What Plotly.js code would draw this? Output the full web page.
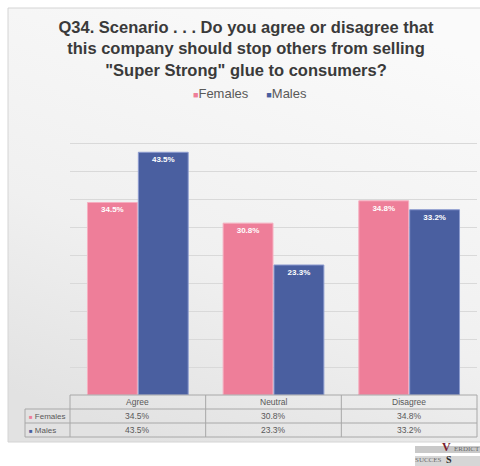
<!DOCTYPE html>
<html>
<head>
<meta charset="utf-8">
<script src="https://cdn.plot.ly/plotly-3.0.1.min.js"></script>
<style>html,body{margin:0;padding:0;background:#fff;}#chart{width:480px;height:466px;}</style>
</head>
<body>
<div id="chart"></div>
<script>
const categories = ['Agree', 'Neutral', 'Disagree'];
const females = [34.5, 30.8, 34.8];
const males = [43.5, 23.3, 33.2];
const seriesNames = ['Females', 'Males'];
const titleText = 'Q34. Scenario . . . Do you agree or disagree that<br>this company should stop others from selling<br>"Super Strong" glue to consumers?';

const PINK = '#EE7E99';
const BLUE = '#4A5FA0';
const W = 480, H = 466;
const L = 70, R = 3, T = 116, B = 71;
const PW = W - L - R, PH = H - T - B;
const px = v => (v - L) / PW;
const py = v => (H - B - v) / PH;

const fmt = v => v.toFixed(1) + '%';

const traces = [
  {type: 'bar', name: seriesNames[0], x: categories, y: females,
   marker: {color: PINK, line: {color: '#F6AFC0', width: 1}},
   texttemplate: '%{y:.1f}%', textposition: 'inside', insidetextanchor: 'end',
   textangle: 0, constraintext: 'none',
   textfont: {family: 'Liberation Sans, Arial, sans-serif', size: 8, color: '#ffffff', weight: 'bold'}},
  {type: 'bar', name: seriesNames[1], x: categories, y: males,
   marker: {color: BLUE, line: {color: '#8C9BCF', width: 1}},
   texttemplate: '%{y:.1f}%', textposition: 'inside', insidetextanchor: 'end',
   textangle: 0, constraintext: 'none',
   textfont: {family: 'Liberation Sans, Arial, sans-serif', size: 8, color: '#ffffff', weight: 'bold'}}
];

const grad = '<svg xmlns="http://www.w3.org/2000/svg" width="100" height="100" preserveAspectRatio="none">' +
  '<defs><linearGradient id="g" x1="0.7" y1="0" x2="0.3" y2="1">' +
  '<stop offset="0" stop-color="#FAFAFA"/><stop offset="0.6" stop-color="#F0F0F0"/><stop offset="1" stop-color="#E2E2E2"/>' +
  '</linearGradient></defs><rect width="100" height="100" fill="url(#g)"/></svg>';

const lineCol = '#A8A8A8';
const shapes = [];
function hline(y, x0, x1) {
  shapes.push({type: 'line', xref: 'paper', yref: 'paper', x0: px(x0), x1: px(x1), y0: py(y), y1: py(y), line: {color: lineCol, width: 1}});
}
function vline(x, y0, y1) {
  shapes.push({type: 'line', xref: 'paper', yref: 'paper', x0: x, x1: x, y0: py(y0), y1: py(y1), line: {color: lineCol, width: 1}});
}
// panel border
shapes.push({type: 'rect', xref: 'paper', yref: 'paper', x0: px(8), x1: px(481), y0: py(442), y1: py(8),
  line: {color: '#D4D4D4', width: 1}, fillcolor: 'rgba(0,0,0,0)', layer: 'below'});
// table grid
hline(395, 70, 477);
hline(409, 25, 477);
hline(423, 25, 477);
hline(437, 25, 477);
vline(px(25), 409, 437);
for (let i = 0; i <= categories.length; i++) vline(i / categories.length, 395, 437);

// logo shapes
shapes.push({type: 'rect', xref: 'paper', yref: 'paper', x0: px(415), x1: px(480), y0: py(453), y1: py(446), fillcolor: '#C9C9C9', line: {width: 0}});
shapes.push({type: 'rect', xref: 'paper', yref: 'paper', x0: px(415), x1: px(480), y0: py(466), y1: py(456), fillcolor: '#D6D6D6', line: {width: 0}});

const annotations = [];
const tFont = {family: 'Liberation Sans, Arial, sans-serif', size: 8.5, color: '#595959'};
const lFont = {family: 'Liberation Sans, Arial, sans-serif', size: 8, color: '#595959'};
const rowY = [402, 416, 430];
categories.forEach((c, i) => {
  annotations.push({xref: 'x', yref: 'paper', x: c, y: py(rowY[0]), text: c, showarrow: false, font: tFont, xanchor: 'center', yanchor: 'middle'});
  annotations.push({xref: 'x', yref: 'paper', x: c, y: py(rowY[1]), text: fmt(females[i]), showarrow: false, font: tFont, xanchor: 'center', yanchor: 'middle'});
  annotations.push({xref: 'x', yref: 'paper', x: c, y: py(rowY[2]), text: fmt(males[i]), showarrow: false, font: tFont, xanchor: 'center', yanchor: 'middle'});
});
annotations.push({xref: 'paper', yref: 'paper', x: px(27), y: py(rowY[1]), xanchor: 'left', yanchor: 'middle', showarrow: false, font: lFont,
  text: '<span style="color:' + PINK + ';font-size:6px">■</span> ' + seriesNames[0]});
annotations.push({xref: 'paper', yref: 'paper', x: px(27), y: py(rowY[2]), xanchor: 'left', yanchor: 'middle', showarrow: false, font: lFont,
  text: '<span style="color:' + BLUE + ';font-size:6px">■</span> ' + seriesNames[1]});

// legend (top)
annotations.push({xref: 'paper', yref: 'paper', x: px(250), y: py(94), xanchor: 'center', yanchor: 'middle', showarrow: false,
  font: {family: 'Liberation Sans, Arial, sans-serif', size: 13, color: '#595959'},
  text: '<span style="color:' + PINK + ';font-size:9px">■</span>' + seriesNames[0] + '     <span style="color:' + BLUE + ';font-size:9px">■</span>' + seriesNames[1]});

// logo text
annotations.push({xref: 'paper', yref: 'paper', x: px(441), y: py(455), xanchor: 'left', yanchor: 'bottom', showarrow: false, borderpad: 0,
  font: {family: 'Liberation Serif, serif', size: 12, color: '#7A1E2E', weight: 'bold'}, text: 'V'});
annotations.push({xref: 'paper', yref: 'paper', x: px(453), y: py(454), xanchor: 'left', yanchor: 'bottom', showarrow: false, borderpad: 0,
  font: {family: 'Liberation Serif, serif', size: 7, color: '#6A6A6A'}, text: 'ERDICT'});
annotations.push({xref: 'paper', yref: 'paper', x: px(414), y: py(465), xanchor: 'left', yanchor: 'bottom', showarrow: false, borderpad: 0,
  font: {family: 'Liberation Serif, serif', size: 7, color: '#6A6A6A'}, text: 'SUCCES'});
annotations.push({xref: 'paper', yref: 'paper', x: px(445), y: py(466), xanchor: 'left', yanchor: 'bottom', showarrow: false, borderpad: 0,
  font: {family: 'Liberation Serif, serif', size: 10, color: '#2A2A2A', weight: 'bold'}, text: 'S'});

const layout = {
  width: W, height: H,
  margin: {l: L, r: R, t: T, b: B, pad: 0},
  paper_bgcolor: '#ffffff',
  plot_bgcolor: 'rgba(0,0,0,0)',
  showlegend: false,
  barmode: 'group',
  bargap: 0.25,
  bargroupgap: 0.02,
  title: {text: '<b>' + titleText + '</b>', x: 246 / W, xanchor: 'center', xref: 'container',
    y: 1 - 33 / H, yanchor: 'top', yref: 'container',
    font: {family: 'Liberation Sans, Arial, sans-serif', size: 16.5, color: '#3A3A3A'}},
  xaxis: {showticklabels: false, showgrid: false, zeroline: false, showline: false, ticks: '', fixedrange: true},
  yaxis: {range: [0, 50], dtick: 5, showticklabels: false, showgrid: true, gridcolor: '#D9D9D9', gridwidth: 1,
    zeroline: false, showline: false, ticks: '', fixedrange: true},
  images: [{source: 'data:image/svg+xml;charset=utf-8,' + encodeURIComponent(grad), xref: 'paper', yref: 'paper',
    x: px(8), y: py(8), sizex: px(481) - px(8), sizey: py(8) - py(442), xanchor: 'left', yanchor: 'top',
    sizing: 'stretch', layer: 'below'}],
  shapes: shapes,
  annotations: annotations
};

Plotly.newPlot('chart', traces, layout, {displayModeBar: false, staticPlot: true});
</script>
</body>
</html>
